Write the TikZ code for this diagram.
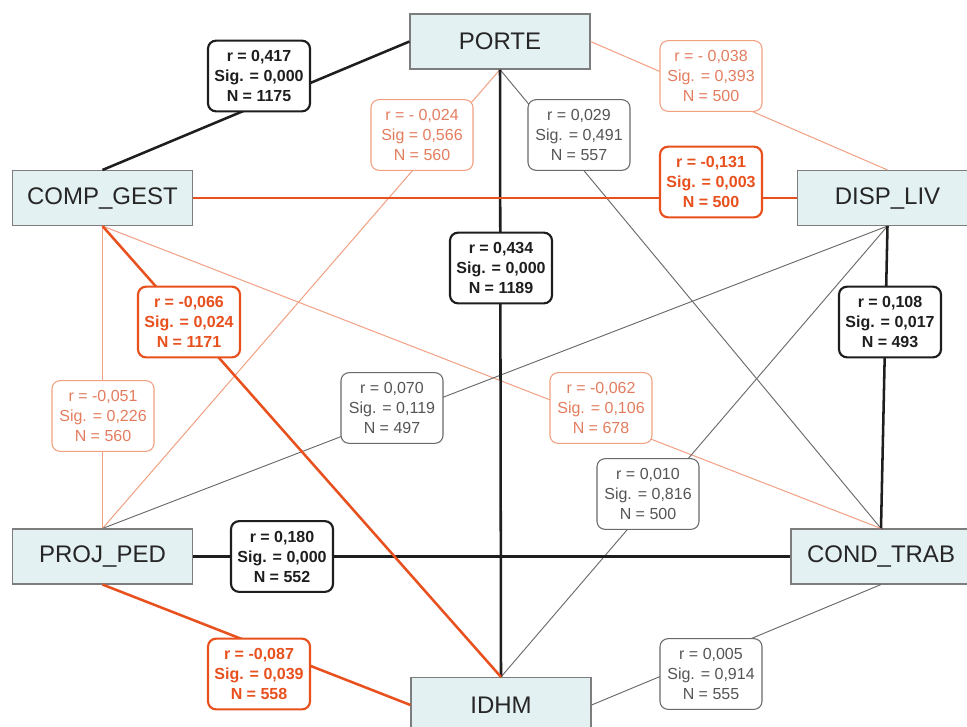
\documentclass[tikz,border=0pt]{standalone}
\usepackage{fontspec}
\setmainfont{Liberation Sans}
\definecolor{strongor}{RGB}{232,80,30}
\definecolor{lightorline}{RGB}{242,160,130}
\definecolor{lightortext}{RGB}{228,125,95}
\definecolor{grayline}{RGB}{105,105,105}
\definecolor{graytext}{RGB}{85,85,85}
\definecolor{darkln}{RGB}{30,30,30}
\definecolor{nodefill}{RGB}{228,241,243}
\definecolor{nodeborder}{RGB}{125,125,125}
\begin{document}
\begin{tikzpicture}[x=0.75pt,y=-0.75pt,
  var/.style={draw=nodeborder, fill=nodefill, line width=0.8pt, minimum width=135pt, minimum height=41.25pt, inner sep=0pt, text=black!85, font=\fontsize{18}{20}\selectfont},
  lab/.style={rounded corners=6pt, fill=white, minimum width=76.5pt, minimum height=53pt, inner sep=0pt, align=center},
  labblack/.style={lab, draw=darkln, line width=1.6pt, text=darkln, font={\fontsize{12}{15}\selectfont\bfseries}},
  labor/.style={lab, draw=strongor, line width=1.6pt, text=strongor, font={\fontsize{12}{15}\selectfont\bfseries}},
  lablight/.style={lab, draw=lightorline, line width=0.8pt, text=lightortext, font={\fontsize{12}{15}\selectfont}},
  labgray/.style={lab, draw=grayline, line width=0.8pt, text=graytext, font={\fontsize{12}{15}\selectfont}},
  eblack/.style={draw=darkln, line width=1.9pt},
  eor/.style={draw=strongor, line width=1.9pt},
  elight/.style={draw=lightorline, line width=0.75pt},
  egray/.style={draw=grayline, line width=0.7pt}
]
\useasboundingbox (0,0) rectangle (967,726);
\clip (0,0) rectangle (967,726);
\fill[white] (0,0) rectangle (967,726);

% variables
\node[var] (porte) at (500,41.5) {PORTE};
\node[var] (comp) at (102.5,198) {COMP\_GEST};
\node[var] (disp) at (887.5,198) {DISP\_LIV};
\node[var] (proj) at (102.5,556.5) {PROJ\_PED};
\node[var] (cond) at (881,556.5) {COND\_TRAB};
\node[var] (idhm) at (501,705) {IDHM};

% connectors
\draw[elight] (porte.south) -- (proj.north);
\draw[elight] (porte.east) -- (disp.north);
\draw[egray] (porte.south) -- (cond.north);
\draw[elight] (comp.south) -- (cond.north);
\draw[elight] (comp.south) -- (proj.north);
\draw[egray] (disp.south) -- (proj.north);
\draw[egray] (disp.south) -- (idhm.north);
\draw[egray] (idhm.east) -- (cond.south);
\draw[eblack] (porte.west) -- (comp.north);
\draw[eblack] (porte.south) -- (idhm.north);
\draw[eblack] (disp.south) -- (cond.north);
\draw[eblack] (proj.east) -- (cond.west);
\draw[eor] (comp.east) -- (disp.west);
\draw[eor] (comp.south) -- (idhm.north);
\draw[eor] (proj.south) -- (idhm.west);

% labels
\node[labblack] (l1) at (259,76) {r = 0,417\\Sig. = 0,000\\N = 1175};
\node[lablight] (l2) at (422,135) {r = - 0,024\\Sig = 0,566\\N = 560};
\node[lablight] (l3) at (711,76) {r = - 0,038\\Sig. = 0,393\\N = 500};
\node[labgray] (l4) at (579,135) {r = 0,029\\Sig. = 0,491\\N = 557};
\node[labor] (l5) at (711,182) {r = -0,131\\Sig. = 0,003\\N = 500};
\node[labblack] (l6) at (501,268) {r = 0,434\\Sig. = 0,000\\N = 1189};
\node[labor] (l7) at (189,322) {r = -0,066\\Sig. = 0,024\\N = 1171};
\node[labblack] (l8) at (890,322) {r = 0,108\\Sig. = 0,017\\N = 493};
\node[lablight] (l9) at (103,416) {r = -0,051\\Sig. = 0,226\\N = 560};
\node[labgray] (l10) at (392,408) {r = 0,070\\Sig. = 0,119\\N = 497};
\node[lablight] (l11) at (601,408) {r = -0,062\\Sig. = 0,106\\N = 678};
\node[labgray] (l12) at (648,494) {r = 0,010\\Sig. = 0,816\\N = 500};
\node[labblack] (l13) at (282,556.5) {r = 0,180\\Sig. = 0,000\\N = 552};
\node[labor] (l14) at (259,674) {r = -0,087\\Sig. = 0,039\\N = 558};
\node[labgray] (l15) at (711,674) {r = 0,005\\Sig. = 0,914\\N = 555};
\end{tikzpicture}
\end{document}
